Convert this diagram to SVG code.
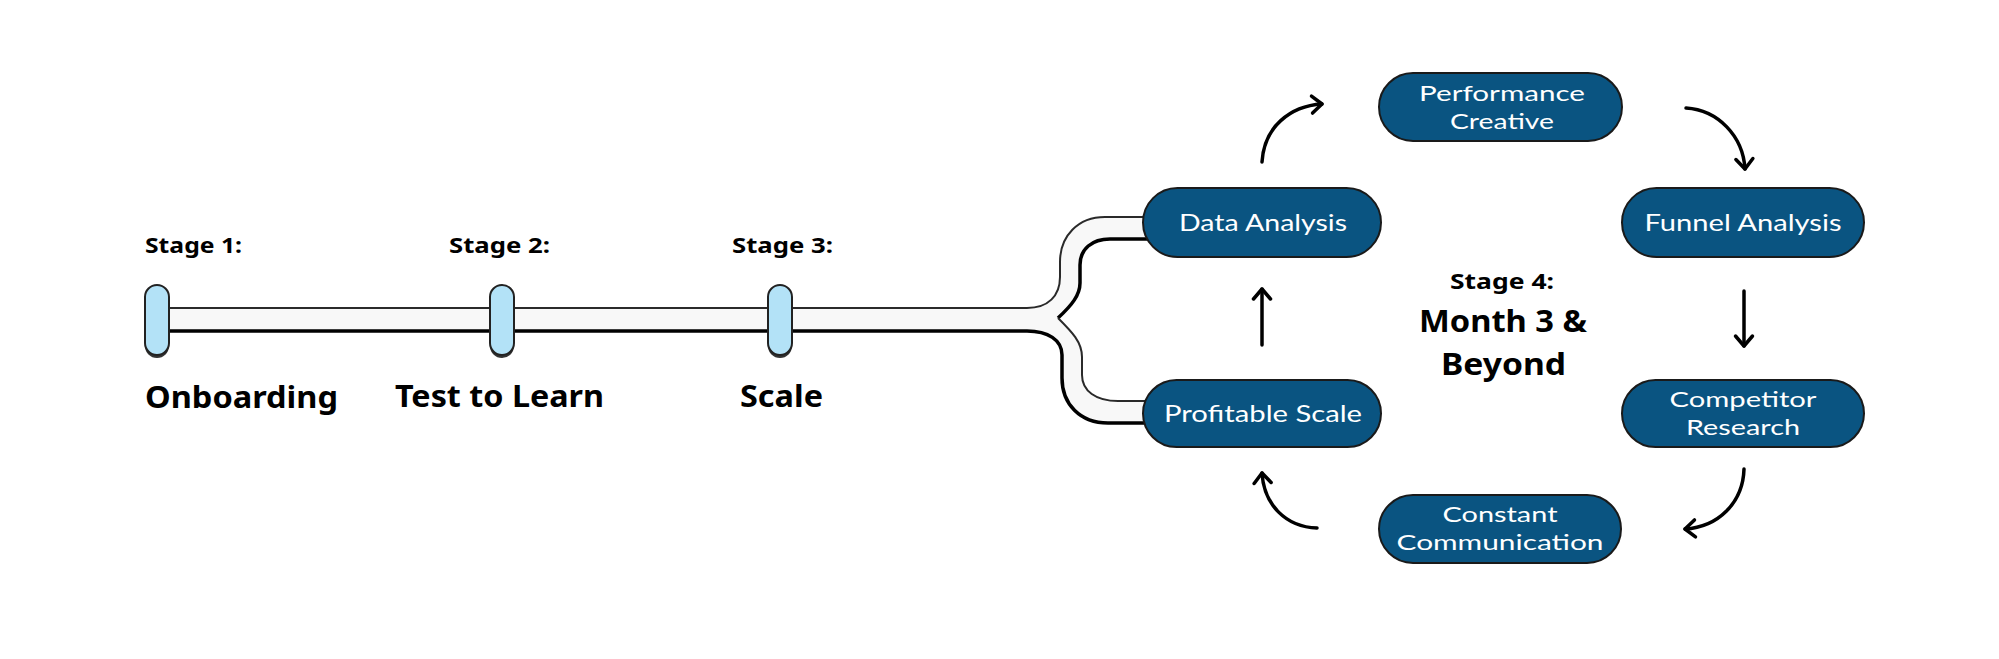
<svg xmlns="http://www.w3.org/2000/svg" width="1999" height="659" viewBox="0 0 1999 659">
<defs>
<style>
.bold{font-family:"Noto Sans","Liberation Sans",sans-serif;font-weight:700;fill:#000}
.stg{font-size:22px}
.big{font-size:31px}
.node rect{fill:#0a5481;stroke:#1a1a1a;stroke-width:2}
.node text{font-family:Lato,"Liberation Sans",sans-serif;font-weight:400;fill:#fff;text-anchor:middle}
.n1{font-size:24px}
.n2{font-size:22px}
.pill{fill:#b3e2f7;stroke:#222;stroke-width:2}
.shadow{fill:#333}
.thin{fill:none;stroke:#2a2a2a;stroke-width:2}
.thick{fill:none;stroke:#000;stroke-width:3.5}
.arr{fill:none;stroke:#000;stroke-width:3.5;stroke-linecap:round;marker-end:url(#head)}
</style>
<marker id="head" markerUnits="userSpaceOnUse" markerWidth="24" markerHeight="24" viewBox="0 0 24 24" refX="15" refY="12" orient="auto">
<path d="M5 3.5 L15 12 L5 20.5" fill="none" stroke="#000" stroke-width="3.5" stroke-linecap="round" stroke-linejoin="round"/>
</marker>
</defs>

<g id="track">
<path d="M157 308 H1027 C1048 308 1060 296 1060 277 V262 C1060 236 1078 217 1105 217 H1150 V239 H1110 C1092 239 1080 249 1080 265 V283 C1080 295 1072 305 1058 318 C1072 332 1082 342 1082 357 V375 C1082 391 1096 401 1118 401 H1150 V423 H1108 C1080 423 1062 404 1062 378 V355 C1062 340 1048 331 1027 331 H157 Z" fill="#f8f8f8"/>
<path class="thin" d="M157 308 H1027 C1048 308 1060 296 1060 277 V262 C1060 236 1078 217 1105 217 H1150"/>
<path class="thick" d="M1058 318 C1072 305 1080 295 1080 283 V265 C1080 249 1092 239 1110 239 H1150"/>
<path class="thin" d="M1058 318 C1072 332 1082 342 1082 357 V375 C1082 391 1096 401 1118 401 H1150"/>
<path class="thick" d="M157 331 H1027 C1048 331 1062 340 1062 355 V378 C1062 404 1080 423 1108 423 H1150"/>
</g>

<g id="stage1">
<rect class="shadow" x="145" y="288" width="24" height="70" rx="12"/>
<rect class="pill" x="145" y="285" width="24" height="70" rx="12"/>
<text class="bold stg" x="145" y="253" textLength="97" lengthAdjust="spacingAndGlyphs">Stage 1:</text>
<text class="bold big" x="145" y="408" textLength="193" lengthAdjust="spacingAndGlyphs">Onboarding</text>
</g>
<g id="stage2">
<rect class="shadow" x="490" y="288" width="24" height="70" rx="12"/>
<rect class="pill" x="490" y="285" width="24" height="70" rx="12"/>
<text class="bold stg" x="449" y="253" textLength="101" lengthAdjust="spacingAndGlyphs">Stage 2:</text>
<text class="bold big" x="395" y="407" textLength="209" lengthAdjust="spacingAndGlyphs">Test to Learn</text>
</g>
<g id="stage3">
<rect class="shadow" x="768" y="288" width="24" height="70" rx="12"/>
<rect class="pill" x="768" y="285" width="24" height="70" rx="12"/>
<text class="bold stg" x="732" y="253" textLength="101" lengthAdjust="spacingAndGlyphs">Stage 3:</text>
<text class="bold big" x="740" y="407" textLength="83" lengthAdjust="spacingAndGlyphs">Scale</text>
</g>
<g id="stage4">
<text class="bold stg" x="1450" y="289" textLength="104" lengthAdjust="spacingAndGlyphs">Stage 4:</text>
<text class="bold big" x="1419" y="332" textLength="168" lengthAdjust="spacingAndGlyphs">Month 3 &amp;</text>
<text class="bold big" x="1441" y="375" textLength="125" lengthAdjust="spacingAndGlyphs">Beyond</text>
</g>

<g id="connectors">
<path class="arr" d="M1262 162 C1264 127 1290 106 1322 104"/>
<path class="arr" d="M1686 108 C1718 110 1743 136 1745 169"/>
<path class="arr" d="M1744 291 V346"/>
<path class="arr" d="M1744 469 C1743 503 1718 527 1685 529"/>
<path class="arr" d="M1317 528 C1286 527 1264 505 1262 473"/>
<path class="arr" d="M1262 345 V289"/>
</g>

<g id="data-analysis" class="node">
<rect x="1143" y="188" width="238" height="69" rx="34.5"/>
<text class="n1" x="1263" y="231" textLength="168" lengthAdjust="spacingAndGlyphs">Data Analysis</text>
</g>
<g id="performance-creative" class="node">
<rect x="1379" y="73" width="243" height="68" rx="34"/>
<text class="n2" x="1502" y="101" textLength="166" lengthAdjust="spacingAndGlyphs">Performance</text>
<text class="n2" x="1502" y="129" textLength="104" lengthAdjust="spacingAndGlyphs">Creative</text>
</g>
<g id="funnel-analysis" class="node">
<rect x="1622" y="188" width="242" height="69" rx="34.5"/>
<text class="n1" x="1743" y="231" textLength="197" lengthAdjust="spacingAndGlyphs">Funnel Analysis</text>
</g>
<g id="competitor-research" class="node">
<rect x="1622" y="380" width="242" height="67" rx="33.5"/>
<text class="n2" x="1743" y="407" textLength="147" lengthAdjust="spacingAndGlyphs">Competitor</text>
<text class="n2" x="1743" y="435" textLength="114" lengthAdjust="spacingAndGlyphs">Research</text>
</g>
<g id="constant-communication" class="node">
<rect x="1379" y="495" width="242" height="68" rx="34"/>
<text class="n2" x="1500" y="522" textLength="115" lengthAdjust="spacingAndGlyphs">Constant</text>
<text class="n2" x="1500" y="550" textLength="207" lengthAdjust="spacingAndGlyphs">Communication</text>
</g>
<g id="profitable-scale" class="node">
<rect x="1143" y="380" width="238" height="67" rx="33.5"/>
<text class="n1" x="1263" y="422" textLength="198" lengthAdjust="spacingAndGlyphs">Profitable Scale</text>
</g>
</svg>
